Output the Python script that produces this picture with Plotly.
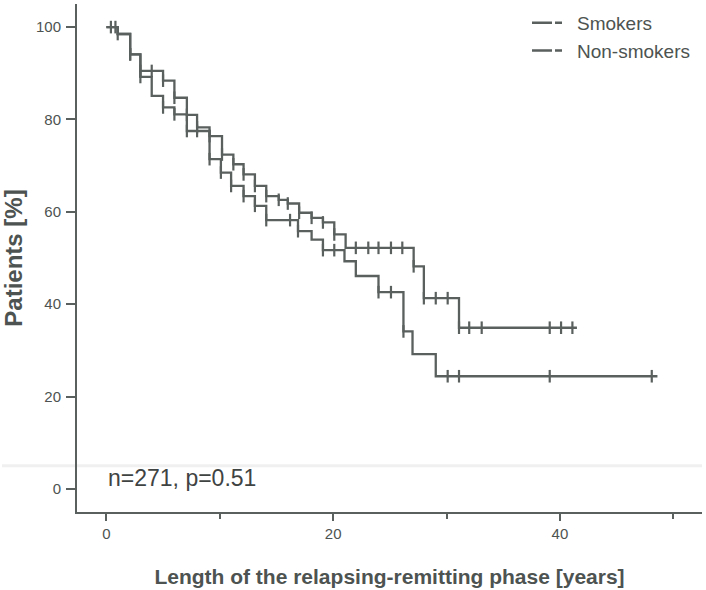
import plotly.graph_objects as go

# ---- data ----
smk_times = [0, 1.0, 2.1, 3.0, 5.0, 6.0, 7.1, 8.0, 9.1, 10.2, 11.2, 12.1, 13.1, 14.1,
             15.2, 16.0, 17.0, 18.1, 19.1, 20.1, 21.1, 27.1, 28.0, 31.1]
smk_surv = [100, 98.5, 94.1, 90.5, 88.4, 84.7, 81.0, 78.3, 76.4, 72.4, 70.3, 68.1, 65.6, 63.4,
            62.6, 61.8, 59.8, 58.7, 57.7, 55.1, 52.2, 48.2, 41.3, 34.9]
smk_end = 41.5
smk_censor = [0.4, 0.8, 2.1, 3.0, 4.0, 5.0, 6.0, 7.1, 8.0, 9.1, 10.2, 11.2, 12.1, 13.1, 14.1,
              15.2, 16.0, 17.0, 18.1, 19.1, 20.1, 22.0, 23.1, 24.0, 25.1, 26.1, 27.1, 28.0,
              29.05, 30.1, 31.1, 32.0, 33.1, 39.1, 40.1, 41.1]

non_times = [0, 1.0, 2.1, 3.0, 4.0, 5.0, 6.0, 7.1, 9.1, 10.1, 11.0, 12.1, 13.1, 14.1,
             16.9, 18.1, 19.1, 21.0, 22.0, 24.0, 26.2, 27.0, 29.05]
non_surv = [100, 98.5, 94.1, 89.2, 85.1, 82.6, 81.1, 77.5, 71.4, 68.5, 65.6, 63.4, 61.3, 58.2,
            55.8, 54.0, 51.7, 49.3, 46.1, 42.6, 34.1, 29.2, 24.4]
non_end = 48.6
non_censor = [1.0, 2.1, 3.0, 5.0, 6.0, 7.1, 8.0, 9.1, 10.1, 11.0, 12.1, 13.1, 14.1, 16.2,
              16.9, 19.1, 20.1, 24.0, 25.1, 26.2, 30.1, 31.1, 39.1, 48.1]

x_ticks = [0, 20, 40]
y_ticks = [0, 20, 40, 60, 80, 100]
annotation_text = "n=271, p=0.51"

# ---- styling ----
LINE = "#59605e"
TEXT = "#4d5351"
FONT = "Liberation Sans, Arial, sans-serif"


def step_value(times, vals, t):
    v = vals[0]
    for ti, vi in zip(times, vals):
        if ti <= t + 1e-9:
            v = vi
    return v


fig = go.Figure()

for name, times, surv, end, cens in [
    ("Smokers", smk_times, smk_surv, smk_end, smk_censor),
    ("Non-smokers", non_times, non_surv, non_end, non_censor),
]:
    xs = list(times) + [end]
    ys = list(surv) + [surv[-1]]
    fig.add_trace(go.Scatter(
        x=xs, y=ys, mode="lines", line=dict(color=LINE, width=2.3, shape="hv"),
        showlegend=False, legendgroup=name, hoverinfo="skip"))
    fig.add_trace(go.Scatter(
        x=cens, y=[step_value(times, surv, c) for c in cens], mode="markers",
        marker=dict(symbol="line-ns", size=9, line=dict(color=LINE, width=2.2)),
        showlegend=False, legendgroup=name, hoverinfo="skip"))
    # legend entry
    fig.add_trace(go.Scatter(
        x=[None], y=[None], mode="lines", name=name, legendgroup=name,
        line=dict(color=LINE, width=2.5, dash="20px,3px,7px")))

fig.add_annotation(x=0, y=2.4, xref="x", yref="y", text=annotation_text,
                   showarrow=False, xanchor="left", yanchor="middle",
                   font=dict(family=FONT, size=23, color="#3f4443"))

# faint scan band
fig.add_shape(type="line", xref="paper", yref="y", x0=-0.12, x1=1.0, y0=5, y1=5,
              line=dict(color="#f0f0f0", width=3), layer="below")

fig.update_layout(
    width=706, height=590,
    margin=dict(l=77, r=4, t=4, b=78),
    paper_bgcolor="white", plot_bgcolor="white",
    font=dict(family=FONT, color=TEXT),
    legend=dict(x=0.72, y=1.0, xanchor="left", yanchor="top",
                font=dict(size=19, color=TEXT), bgcolor="rgba(0,0,0,0)",
                tracegroupgap=0, itemwidth=40),
    xaxis=dict(range=[-2.59, 52.53], tickvals=x_ticks, ticks="outside", ticklen=7,
               tickwidth=2, tickcolor=LINE, showline=True, linecolor=LINE, linewidth=2,
               showgrid=False, zeroline=False, tickfont=dict(size=15, color=TEXT),
               automargin=False,
               minor=dict(tickvals=[10, 30, 50], ticks="outside", ticklen=5,
                          tickwidth=2, tickcolor=LINE, showgrid=False),
               title=dict(text="<b>Length of the relapsing-remitting phase [years]</b>",
                          font=dict(size=21, color=TEXT), standoff=28)),
    yaxis=dict(range=[-5, 105], tickvals=y_ticks, ticks="outside", ticklen=9,
               tickwidth=2, tickcolor=LINE, showline=True, linecolor=LINE, linewidth=2,
               showgrid=False, zeroline=False, tickfont=dict(size=15, color=TEXT),
               ticklabelstandoff=2, automargin=False,
               title=dict(text="<b>Patients [%]</b>", font=dict(size=24, color=TEXT),
                          standoff=8)),
)

fig.write_html("out.html")
